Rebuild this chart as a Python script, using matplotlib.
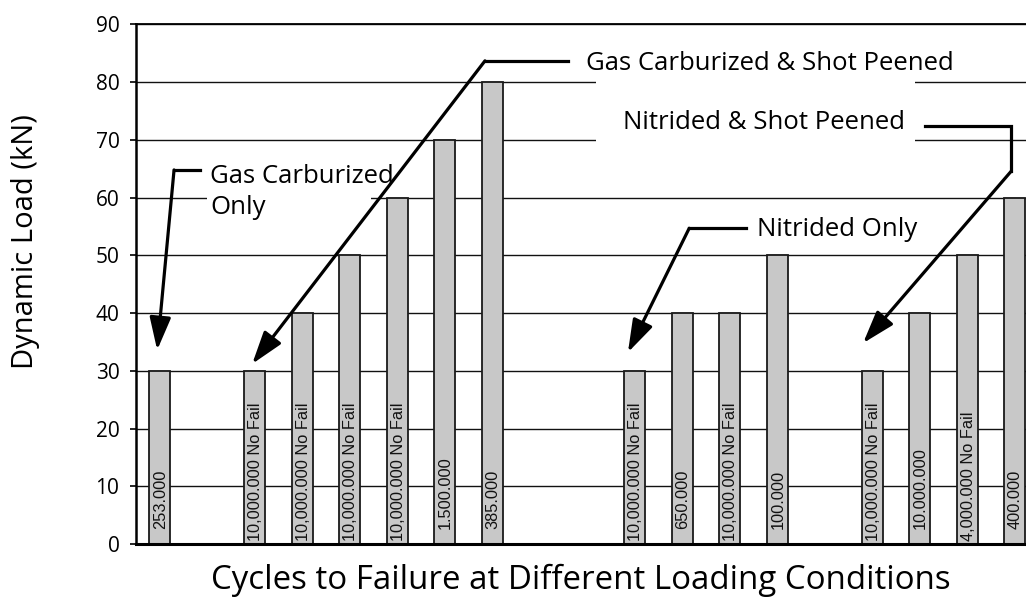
import numpy as np
import matplotlib
matplotlib.use("Agg")
import matplotlib.pyplot as plt
from matplotlib.patches import Rectangle

plt.rcParams['font.family'] = ['Open Sans', 'DejaVu Sans']

# dynamic load per test slot (None = empty gap between groups)
loads = [30, None, 30, 40, 50, 60, 70, 80, None, None,
         30, 40, 40, 50, None, 30, 40, 50, 60]
cycles = ['253.000', '', '10,000.000 No Fail', '10,000.000 No Fail',
          '10,000.000 No Fail', '10,000.000 No Fail', '1.500.000', '385.000',
          '', '', '10,000.000 No Fail', '650.000', '10,000.000 No Fail',
          '100.000', '', '10,000.000 No Fail', '10.000.000',
          '4,000.000 No Fail', '400.000']
yticks = [0, 10, 20, 30, 40, 50, 60, 70, 80, 90]

fig = plt.figure(figsize=(10.26, 5.99), dpi=100)
ax = fig.add_axes([0.1326, 0.0918, 0.8674, 0.8673])

x = np.arange(len(loads))
h = np.array([np.nan if v is None else v for v in loads], dtype=float)
ax.bar(x, h, width=0.44, color='#c8c8c8', edgecolor='#1a1a1a', linewidth=1.3, zorder=2)

for xi, lab in zip(x, cycles):
    if lab:
        y0 = 0.6 if 'No Fail' in lab else 2.6
        ax.text(xi + 0.02, y0, lab, rotation=90, ha='center', va='bottom',
                fontsize=11.8, family='Liberation Sans', color='#111111', zorder=3)

ax.set_xlim(-0.495, 18.24)
ax.set_ylim(0, 90)
ax.set_yticks(yticks)
ax.set_xticks([])
ax.yaxis.grid(True, color='#111111', linewidth=1.0)
ax.set_axisbelow(True)
ax.tick_params(axis='y', length=4, width=1.2, labelsize=15, pad=8)
ax.spines['right'].set_visible(False)
ax.spines['top'].set_linewidth(1.3)
ax.spines['left'].set_linewidth(1.8)
ax.spines['bottom'].set_linewidth(2.2)

fig.text(26 / 1026, 1 - 242 / 599, 'Dynamic Load (kN)', fontsize=21,
         rotation=90, ha='center', va='center')
ax.set_xlabel('Cycles to Failure at Different Loading Conditions', fontsize=23.8, labelpad=14)

# white boxes behind labels that break gridlines
ax.add_patch(Rectangle((1.0, 57.5), 3.45, 5, facecolor='white', edgecolor='none', zorder=1.5))
ax.add_patch(Rectangle((9.19, 68.8), 6.72, 12.4, facecolor='white', edgecolor='none', zorder=1.5))

tfs = 18.5
ax.text(1.06, 61.0, 'Gas Carburized\nOnly', fontsize=tfs, ha='left', va='center',
        linespacing=1.3, zorder=4)
ax.text(8.98, 83.3, 'Gas Carburized & Shot Peened', fontsize=tfs, ha='left', va='center', zorder=4)
ax.text(12.58, 54.5, 'Nitrided Only', fontsize=tfs, ha='left', va='center', zorder=4)
ax.text(9.76, 73.0, 'Nitrided & Shot Peened', fontsize=tfs, ha='left', va='center', zorder=4)

leaders = [
    [(0.853, 64.8), (0.305, 64.8), (-0.05, 33.6)],
    [(8.6, 83.7), (6.85, 83.7), (1.95, 31.2)],
    [(12.35, 54.7), (11.15, 54.7), (9.86, 33.2)],
    [(16.12, 72.4), (17.93, 72.4), (17.93, 64.6), (14.81, 34.8)],
]
for pts in leaders:
    xs, ys = zip(*pts[:-1])
    ax.plot(xs, ys, color='black', lw=2.3, solid_joinstyle='miter', zorder=5,
            clip_on=False)
    ax.annotate('', xy=pts[-1], xytext=pts[-2], zorder=5,
                arrowprops=dict(arrowstyle='-|>,head_length=0.8,head_width=0.26',
                                mutation_scale=25, color='black', lw=2.3,
                                shrinkA=0, shrinkB=0))

fig.savefig('out.png', dpi=100)
